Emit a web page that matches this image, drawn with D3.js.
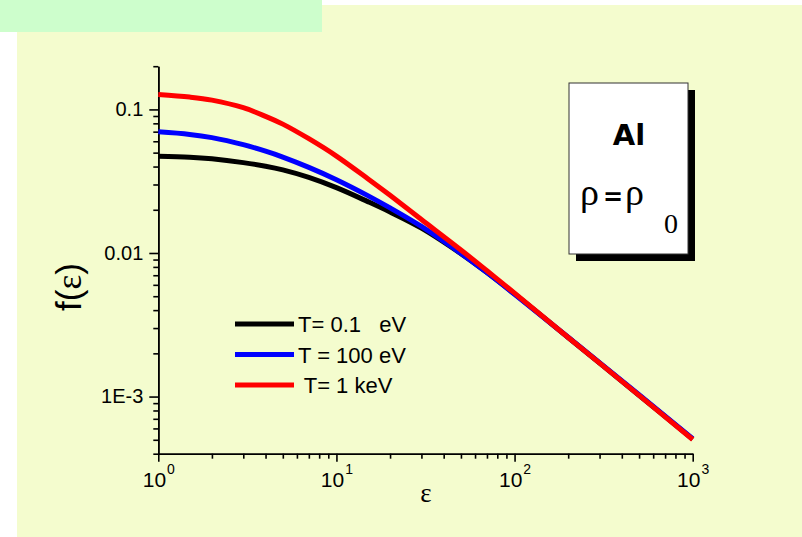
<!DOCTYPE html>
<html>
<head>
<meta charset="utf-8">
<script src="https://cdn.jsdelivr.net/npm/d3@7"></script>
<style>
  html, body { margin: 0; padding: 0; background: #ffffff; }
  svg { display: block; }
  text { font-family: "Liberation Sans", Arial, sans-serif; fill: #000; }
</style>
</head>
<body>
<svg id="chart" width="802" height="537"></svg>
<script>
// Energy grid (eps) shared by all three temperature curves
const eps = [1, 1.5, 2, 3, 4, 5, 7, 10, 15, 20, 30, 50, 70, 100, 200, 500, 1000];

// f(eps) for aluminium at normal density, three temperatures
const fT01eV  = [0.0472, 0.0465, 0.0453, 0.0426, 0.0402, 0.0379, 0.0336, 0.0285, 0.0228, 0.0193, 0.0149, 0.00989, 0.00731, 0.00519, 0.00258, 0.00102, 0.000505];
const fT100eV = [0.0698, 0.0670, 0.0636, 0.0568, 0.0512, 0.0466, 0.0395, 0.0324, 0.0251, 0.0206, 0.0153, 0.00994, 0.00730, 0.00516, 0.00259, 0.00103, 0.000508];
const fT1keV  = [0.127, 0.1219, 0.1161, 0.1028, 0.0895, 0.0790, 0.0625, 0.0473, 0.0329, 0.0252, 0.0171, 0.0105, 0.00752, 0.00525, 0.00258, 0.00102, 0.000502];

const seriesNames  = ["T= 0.1   eV", "T = 100 eV", " T= 1 keV"];
const seriesColors = ["#000000", "#0000ff", "#ff0000"];
const seriesValues = [fT01eV, fT100eV, fT1keV];

const xMajorTicks = [1, 10, 100, 1000];
const xExponents  = ["0", "1", "2", "3"];
const yMajorTicks = [0.001, 0.01, 0.1];
const yTickLabels = ["1E-3", "0.01", "0.1"];

const svg = d3.select("#chart");

// page background panels
svg.append("rect").attr("x", 17).attr("y", 5).attr("width", 785).attr("height", 532).attr("fill", "#f4fcce");
svg.append("rect").attr("x", 0).attr("y", 0).attr("width", 322).attr("height", 32).attr("fill", "#cdfecc");

const x = d3.scaleLog().domain([1, 1000]).range([158.3, 692.7]);
const y = d3.scaleLog().domain([4e-4, 0.2]).range([453.7, 66.2]);

// minor tick positions: 2..9 within each decade, clipped to the domain
function minorTicks(scale) {
  const [d0, d1] = scale.domain();
  const out = [];
  for (let e = Math.floor(Math.log10(d0)); e <= Math.ceil(Math.log10(d1)); e++) {
    for (let m = 2; m <= 9; m++) {
      const v = m * Math.pow(10, e);
      if (v >= d0 * 0.999 && v <= d1 * 1.001) out.push(v);
    }
  }
  return out;
}

// x axis
const xAxisG = svg.append("g").attr("transform", `translate(0,${y.range()[0]})`);
xAxisG.append("g")
  .call(d3.axisBottom(x).tickValues(minorTicks(x)).tickSize(5).tickSizeOuter(0).tickFormat(""));
const xMajor = xAxisG.append("g")
  .call(d3.axisBottom(x).tickValues(xMajorTicks).tickSize(8).tickSizeOuter(0).tickFormat(""));
xMajor.selectAll(".tick").each(function(d, i) {
  const t = d3.select(this).append("text")
    .attr("y", 33)
    .attr("text-anchor", "middle")
    .style("font-size", "21px");
  t.append("tspan").text("10");
  t.append("tspan").attr("dy", -13).attr("dx", 1).style("font-size", "14px").text(xExponents[i]);
});

// y axis
const yAxisG = svg.append("g").attr("transform", `translate(${x.range()[0]},0)`);
yAxisG.append("g")
  .call(d3.axisLeft(y).tickValues(minorTicks(y)).tickSize(5).tickSizeOuter(0).tickFormat(""));
yAxisG.append("g")
  .call(d3.axisLeft(y).tickValues(yMajorTicks).tickSize(9).tickSizeOuter(0)
    .tickFormat((d, i) => yTickLabels[i]))
  .selectAll("text")
  .attr("x", -15)
  .style("font-size", "20px")
  .style("font-family", "'Liberation Sans', Arial, sans-serif");

svg.selectAll(".domain, .tick line").attr("stroke", "#000").attr("stroke-width", 1.6);

// axis titles
svg.append("text")
  .attr("x", 426).attr("y", 502)
  .attr("text-anchor", "middle")
  .style("font-family", "'Liberation Serif', 'Times New Roman', serif")
  .style("font-size", "27px")
  .text("ε");

const yTitle = svg.append("text")
  .attr("transform", "translate(81,287) rotate(-90)")
  .attr("text-anchor", "middle")
  .style("font-size", "35px");
yTitle.append("tspan").text("f(");
yTitle.append("tspan").style("font-family", "'Liberation Serif', 'Times New Roman', serif").text("ε");
yTitle.append("tspan").text(")");

// curves
const line = d3.line()
  .x(d => x(d[0]))
  .y(d => y(d[1]))
  .curve(d3.curveCatmullRom.alpha(0.5));

seriesValues.forEach((vals, i) => {
  svg.append("path")
    .datum(eps.map((e, k) => [e, vals[k]]))
    .attr("fill", "none")
    .attr("stroke", seriesColors[i])
    .attr("stroke-width", 5)
    .attr("stroke-linejoin", "round")
    .attr("d", line);
});

// legend
const legendRows = [324, 354.5, 385];
seriesNames.forEach((name, i) => {
  svg.append("line")
    .attr("x1", 235).attr("x2", 294)
    .attr("y1", legendRows[i]).attr("y2", legendRows[i])
    .attr("stroke", seriesColors[i]).attr("stroke-width", 5);
  svg.append("text")
    .attr("x", 298).attr("y", legendRows[i] + 8)
    .style("font-size", "22px")
    .attr("xml:space", "preserve")
    .style("white-space", "pre")
    .text(name);
});

// material label box with drop shadow
svg.append("rect").attr("x", 576).attr("y", 90).attr("width", 119).attr("height", 171).attr("fill", "#000");
svg.append("rect").attr("x", 569).attr("y", 83).attr("width", 119).attr("height", 171)
  .attr("fill", "#fff").attr("stroke", "#333").attr("stroke-width", 1);

svg.append("text")
  .attr("x", 629).attr("y", 145)
  .attr("text-anchor", "middle")
  .style("font-family", "'Comic Sans MS', 'DejaVu Sans', sans-serif")
  .style("font-weight", "bold")
  .style("font-size", "29px")
  .text("Al");

const rho = svg.append("text").attr("x", 580).attr("y", 205);
rho.append("tspan").style("font-family", "'Liberation Serif', serif").style("font-size", "38px").text("ρ");
rho.append("tspan").attr("dx", 4).style("font-family", "'DejaVu Sans', sans-serif").style("font-weight", "bold").style("font-size", "24px").text("=");
rho.append("tspan").attr("dx", 2).style("font-family", "'Liberation Serif', serif").style("font-size", "38px").text("ρ");
rho.append("tspan").attr("dx", 20).attr("dy", 28).style("font-family", "'Liberation Serif', serif").style("font-size", "28px").text("0");
</script>
</body>
</html>
